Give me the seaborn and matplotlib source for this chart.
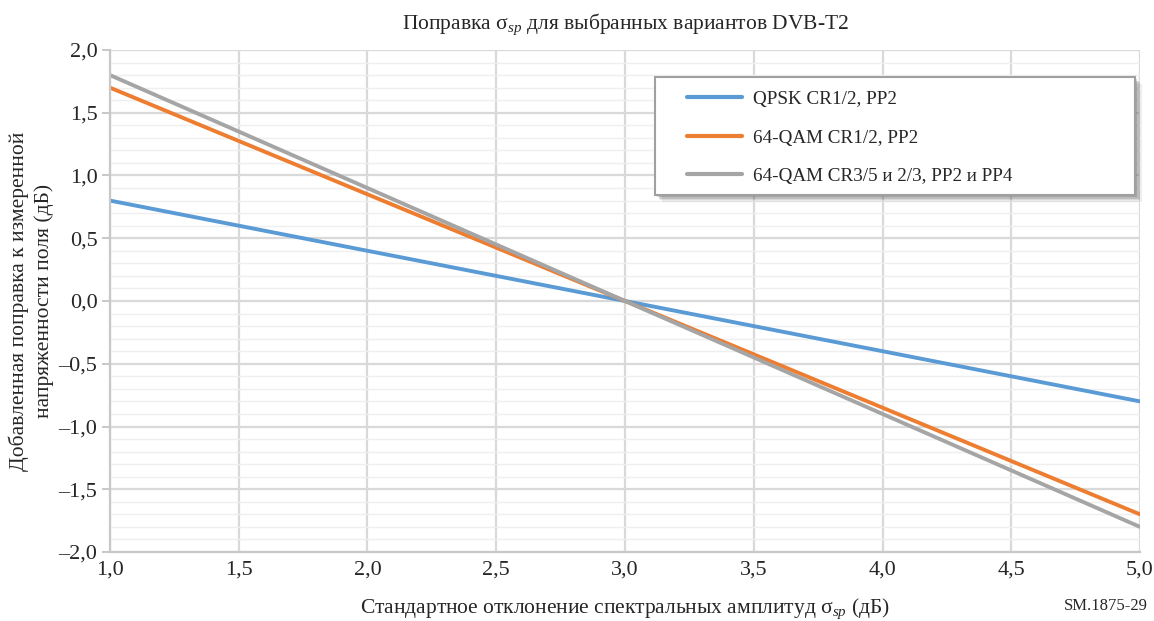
import numpy as np
import pandas as pd
import matplotlib
matplotlib.use("Agg")
import matplotlib.pyplot as plt
import matplotlib.transforms as mtransforms
from matplotlib.patches import Rectangle
import seaborn as sns
from matplotlib.ticker import FuncFormatter, MultipleLocator

# Standard deviation of spectral amplitudes, dB
sigma_sp = [1.0, 2.0, 3.0, 4.0, 5.0]

# Correction to measured field strength, dB
qpsk_cr12_pp2 = [0.8, 0.4, 0.0, -0.4, -0.8]
qam64_cr12_pp2 = [1.7, 0.85, 0.0, -0.85, -1.7]
qam64_cr35_23 = [1.8, 0.9, 0.0, -0.9, -1.8]

series_names = [
    "QPSK CR1/2, PP2",
    "64-QAM CR1/2, PP2",
    "64-QAM CR3/5 и 2/3, PP2 и PP4",
]
series_colors = ["#5B9BD5", "#ED7D31", "#A5A5A5"]

df = pd.concat(
    [
        pd.DataFrame({"sigma": sigma_sp, "corr": vals, "variant": name})
        for name, vals in zip(series_names, [qpsk_cr12_pp2, qam64_cr12_pp2, qam64_cr35_23])
    ],
    ignore_index=True,
)

sns.set_style("white")
plt.rcParams["font.family"] = ["Liberation Serif", "DejaVu Serif"]
plt.rcParams["mathtext.fontset"] = "custom"
plt.rcParams["mathtext.rm"] = "Liberation Serif"
plt.rcParams["mathtext.it"] = "Liberation Serif:italic"

fig = plt.figure(figsize=(11.54, 6.21), dpi=100)
ax = fig.add_axes([0.0953, 0.1111, 0.8926, 0.8084])

sns.lineplot(
    data=df, x="sigma", y="corr", hue="variant", hue_order=series_names,
    palette=series_colors, linewidth=2.8, ax=ax, legend=True,
)

ax.set_xlim(1.0, 5.0)
ax.set_ylim(-2.0, 2.0)
ax.xaxis.set_major_locator(MultipleLocator(0.5))
ax.yaxis.set_major_locator(MultipleLocator(0.5))
ax.yaxis.set_minor_locator(MultipleLocator(0.1))

fmt = FuncFormatter(lambda v, p: f"{v:.1f}".replace(".", ",").replace("-", "–"))
ax.xaxis.set_major_formatter(fmt)
ax.yaxis.set_major_formatter(fmt)

ax.grid(which="major", axis="both", color="#D9D9D9", linewidth=1.6)
ax.grid(which="minor", axis="y", color="#EFEFEF", linewidth=1.0)
ax.set_axisbelow(True)

for side in ["top", "right"]:
    ax.spines[side].set_visible(False)
for side in ["left", "bottom"]:
    ax.spines[side].set_color("#C8C8C8")
    ax.spines[side].set_linewidth(1.6)

ax.tick_params(axis="y", which="major", left=True, length=6, width=1.4, color="#C8C8C8",
               labelsize=16, pad=3)
ax.tick_params(axis="y", which="minor", left=False)
ax.tick_params(axis="x", which="major", bottom=False, labelsize=16, pad=3)

ax.set_title("Поправка σ$_{sp}$ для выбранных вариантов DVB-T2", fontsize=15.5, pad=15)
ax.set_xlabel("Стандартное отклонение спектральных амплитуд σ$_{sp}$ (дБ)", fontsize=15.5, labelpad=12)
ax.set_ylabel("Добавленная поправка к измеренной\nнапряженности поля (дБ)", fontsize=15.5,
              labelpad=3, linespacing=1.4)

# Legend box with a soft drop shadow
box = (0.5291, 0.7112, 0.4660, 0.2350)
for off, alpha in [(7, 0.10), (5.5, 0.15), (4, 0.22), (2.5, 0.25)]:
    shift = mtransforms.offset_copy(ax.transAxes, fig=fig, x=off, y=-off, units="dots")
    ax.add_patch(Rectangle(box[:2], box[2], box[3], transform=shift, facecolor="#606060",
                           edgecolor="none", alpha=alpha, zorder=5, clip_on=False))
ax.add_patch(Rectangle(box[:2], box[2], box[3], transform=ax.transAxes, facecolor="white",
                       edgecolor="#A0A0A0", linewidth=1.5, zorder=6, clip_on=False))

leg = ax.legend(
    loc="upper left", bbox_to_anchor=(0.560, 0.919),
    frameon=False, fontsize=13.8, handlelength=2.9, handletextpad=0.55, borderpad=0,
    labelspacing=1.1, borderaxespad=0, title=None,
)
leg.set_zorder(7)
for h in leg.get_lines():
    h.set_linewidth(3)

fig.text(0.995, 0.012, "SM.1875-29", ha="right", va="bottom", fontsize=12)

fig.savefig("out.png", dpi=100)
